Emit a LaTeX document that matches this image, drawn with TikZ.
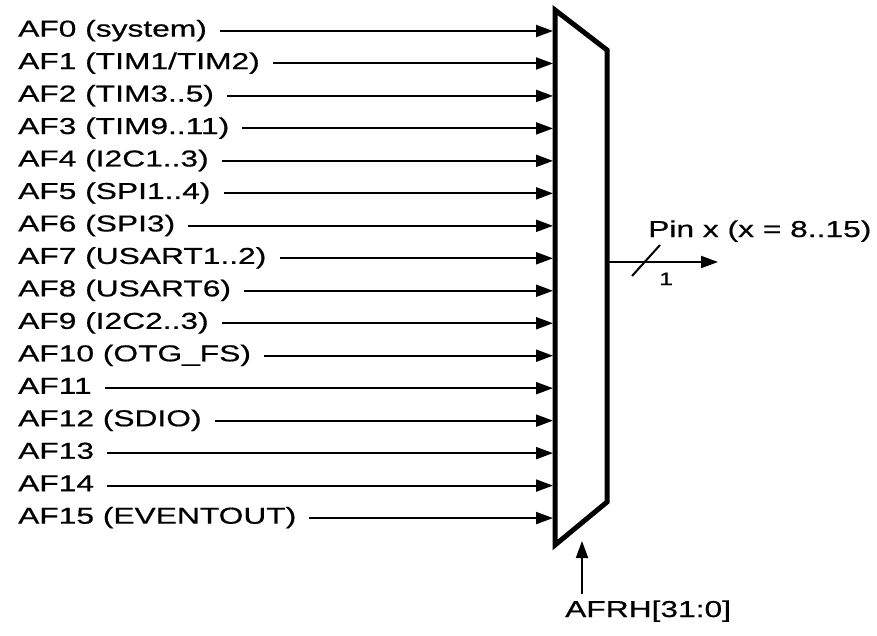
\documentclass[tikz,border=0pt]{standalone}
\usepackage{fontspec}
\setmainfont{Liberation Sans}[FakeStretch=1.38,FakeBold=0.6]
\usetikzlibrary{arrows.meta}
\tikzset{
  lbl/.style={font=\fontsize{23}{23}\selectfont, inner sep=0pt, anchor=base west},
  inarrow/.style={line width=2pt, -{Triangle[length=17pt,width=12pt]}},
  muxshape/.style={line width=5pt, line join=miter},
}
\begin{document}
\begin{tikzpicture}[x=1pt,y=-1pt]
\useasboundingbox (0,0) rectangle (877,635);
% multiplexer
\draw[muxshape] (555,10) coordinate (mtl) -- (607,50) coordinate (mtr) -- (607,502) coordinate (mbr) -- (555,545) coordinate (mbl) -- cycle;
% inputs
\foreach \i/\t in {0/{AF0 (system)},1/{AF1 (TIM1/TIM2)},2/{AF2 (TIM3..5)},3/{AF3 (TIM9..11)},4/{AF4 (I2C1..3)},5/{AF5 (SPI1..4)},6/{AF6 (SPI3)},7/{AF7 (USART1..2)},8/{AF8 (USART6)},9/{AF9 (I2C2..3)},10/{AF10 (OTG\_FS)},11/{AF11},12/{AF12 (SDIO)},13/{AF13},14/{AF14},15/{AF15 (EVENTOUT)}}{
  \pgfmathsetmacro{\yy}{31+\i*32.47}
  \node[lbl] (af\i) at (18,\yy+5.6) {\t};
  \coordinate (in\i) at (553,\yy);
  \draw[inarrow] (af\i.east |- in\i) ++(13,0) coordinate (st\i) -- (in\i);
}
% output
\coordinate (outstart) at (609,262);
\coordinate (outend) at (718,262);
\draw[inarrow] (outstart) -- (outend);
\coordinate (sl1) at (632,276);
\coordinate (sl2) at (660,245);
\draw[line width=2pt] (sl1) -- (sl2);
\node[font=\fontsize{18}{18}\selectfont, inner sep=0pt, anchor=base west] (one) at (659,285) {1};
\node[lbl] (pin) at (648,237) {Pin x (x = 8..15)};
% select
\node[lbl] (afrh) at (565,617) {AFRH[31:0]};
\coordinate (selstart) at (582,594);
\coordinate (selend) at (582,541);
\draw[inarrow] (selstart) -- (selend);
\end{tikzpicture}
\end{document}
